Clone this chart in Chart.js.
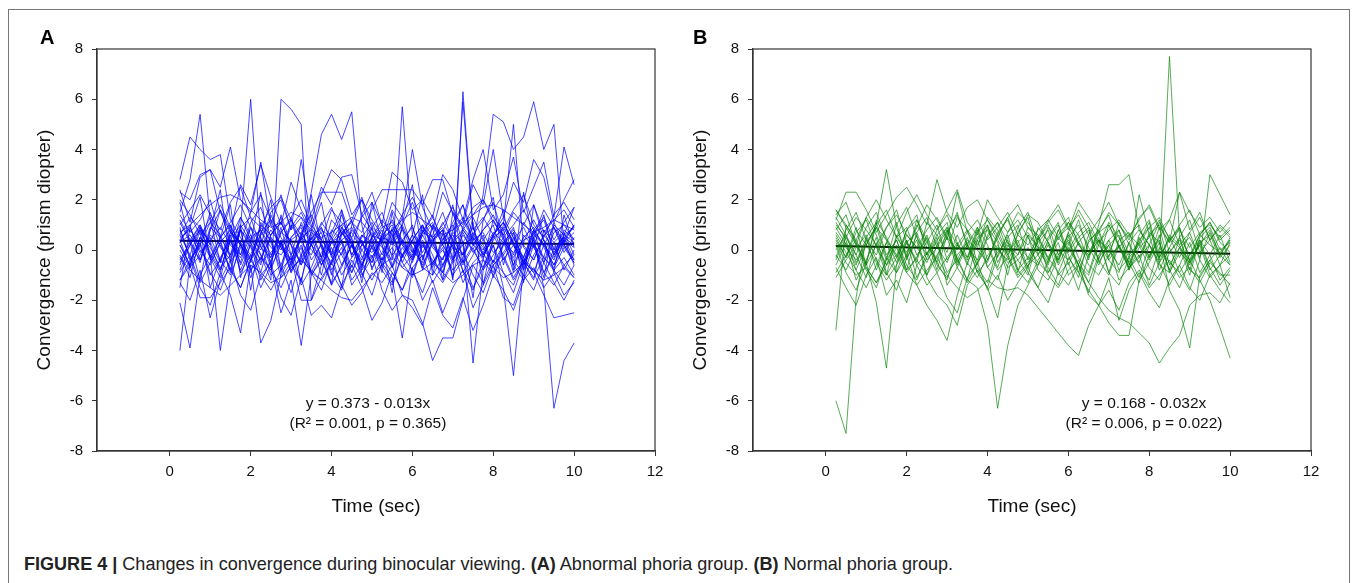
<!DOCTYPE html>
<html>
<head>
<meta charset="utf-8">
<script src="https://cdn.jsdelivr.net/npm/chart.js@4.4.1/dist/chart.umd.min.js"></script>
<style>
  html, body { margin: 0; padding: 0; background: #fff; }
  body { width: 1358px; height: 583px; position: relative; overflow: hidden; font-family: "Liberation Sans", Arial, sans-serif; }
  #frame { position: absolute; left: 8px; top: 9px; width: 1342px; height: 600px; border: 1px solid #777; box-sizing: border-box; }
  canvas { position: absolute; top: 0; }
  .letter { position: absolute; font-weight: bold; font-size: 20px; color: #000; }
  #caption { position: absolute; left: 24px; top: 553px; font-family: "Liberation Sans Narrow", "Arial Narrow", "Liberation Sans", sans-serif; font-size: 19px; color: #222; white-space: nowrap; transform: scaleX(0.95); transform-origin: 0 0; }
</style>
</head>
<body>
<div id="frame"></div>
<canvas id="chartA" width="680" height="530" style="left:0px"></canvas>
<canvas id="chartB" width="680" height="530" style="left:656px"></canvas>
<div class="letter" style="left:40px;top:26px">A</div>
<div class="letter" style="left:693px;top:26px">B</div>
<div id="caption"><b>FIGURE 4 |</b> Changes in convergence during binocular viewing. <b>(A)</b> Abnormal phoria group. <b>(B)</b> Normal phoria group.</div>
<script>
// time points (sec)
const timeSec = [0.25, 0.5, 0.75, 1.0, 1.25, 1.5, 1.75, 2.0, 2.25, 2.5,
                 2.75, 3.0, 3.25, 3.5, 3.75, 4.0, 4.25, 4.5, 4.75, 5.0,
                 5.25, 5.5, 5.75, 6.0, 6.25, 6.5, 6.75, 7.0, 7.25, 7.5,
                 7.75, 8.0, 8.25, 8.5, 8.75, 9.0, 9.25, 9.5, 9.75, 10.0];
const xTicks = [0, 2, 4, 6, 8, 10, 12];

// (A) abnormal phoria group, one row per subject
const abnormalPhoria = [
  [0.5,0.8,0.2,1.1,0.6,-0.3,0.9,6.0,0.4,-0.5, 0.7,1.2,0.3,-0.2,0.8,0.5,1.4,0.2,-0.6,0.3, 0.9,1.1,0.4,-0.3,0.6,1.0,0.2,-0.4,5.9,0.8, 1.3,0.6,-0.2,0.4,0.9,0.1,-0.5,0.7,1.0,0.4],
  [-0.4,0.3,1.0,0.2,-0.8,0.5,1.3,0.4,-0.2,-1.2, 6.0,5.6,5.0,-2.0,-0.6,0.3,0.8,-0.2,0.5,1.1, 0.2,-0.7,0.4,0.9,-0.1,0.6,1.5,0.3,-0.5,0.2, 0.8,1.2,0.4,-0.3,0.5,0.9,0.1,-0.6,0.3,0.7],
  [1.2,0.4,-0.5,0.8,1.6,0.3,-0.2,0.9,0.5,-0.7, 0.2,1.0,0.4,2.3,4.6,5.4,4.4,5.5,1.0,-0.8, 0.5,1.2,0.3,-0.4,0.7,1.1,0.2,-0.5,0.9,0.4, -0.2,0.6,1.3,0.5,-0.3,0.8,0.2,-0.6,0.4,1.0],
  [0.2,-0.6,0.5,1.3,0.1,-0.4,0.8,0.3,-0.9,0.6, 1.1,0.2,-0.5,0.7,0.4,-0.2,0.9,0.3,-0.7,0.5, 1.0,-0.3,5.7,0.6,-0.8,0.3,1.1,0.4,-0.2,0.7, 0.2,-0.5,1.0,5.0,0.1,-0.4,0.6,0.9,-0.1,0.5],
  [-0.8,0.2,0.9,-0.3,0.5,1.0,-0.6,0.4,0.8,-0.2, 0.3,-0.9,0.6,1.2,0.1,-0.5,0.7,0.2,-0.4,0.9, 0.5,-0.2,0.3,1.0,-0.7,0.4,0.8,-1.2,6.3,0.9, -0.3,0.6,1.1,0.2,-0.6,0.5,0.8,-0.2,0.4,0.1],
  [0.3,1.0,-0.4,0.6,0.2,-0.8,0.9,1.3,0.1,-0.3, 0.7,0.4,-0.6,0.2,1.1,0.5,-0.2,0.8,0.3,-0.5, 0.6,1.0,0.2,-0.4,0.8,0.3,-0.7,0.5,1.2,0.4, 2.2,5.4,5.1,4.0,4.5,5.9,4.0,5.0,0.2,-0.5],
  [1.5,2.8,5.4,1.2,-0.5,0.7,0.3,-0.2,0.9,0.4, -0.6,0.5,1.0,0.2,-0.3,0.8,0.4,-0.7,0.6,0.1, -0.4,0.9,0.3,-0.2,0.7,0.5,-0.9,0.4,0.8,0.2, -0.3,0.6,1.1,0.3,-0.5,0.7,0.2,-0.4,0.6,0.9],
  [2.8,4.5,4.0,3.6,3.8,1.2,0.5,-0.4,1.0,0.6, 1.3,-0.2,0.4,0.9,0.2,-0.6,0.7,1.1,0.3,-0.3, 0.5,0.8,-0.5,0.4,1.0,0.2,-0.4,0.7,0.3,0.9, -0.2,0.5,0.8,-0.6,0.3,1.2,0.4,-0.1,0.6,0.3],
  [-4.0,-0.5,0.8,-1.5,-0.3,0.4,-0.8,0.2,-1.2,-0.4, 0.3,-0.9,-0.2,0.5,-0.6,0.1,-1.0,-0.3,0.4,-0.7, -0.1,0.6,-0.5,-1.1,0.2,-0.4,-0.9,0.3,-0.6,0.1, -0.8,-0.2,0.5,-0.4,-1.0,0.2,-0.3,-0.7,0.1,-0.5],
  [-2.1,-3.9,-1.0,-0.2,-4.0,-1.2,0.3,-0.8,-0.3,0.5, -1.1,-0.5,0.2,-0.9,-1.6,-0.4,0.3,-1.2,-0.6,0.1, -0.8,-1.4,-0.2,0.4,-0.7,-1.0,-0.3,0.2,-1.3,-0.5, -0.1,-0.9,0.3,-0.6,-1.2,-0.2,0.4,-0.8,-0.3,-1.0],
  [0.8,-0.3,-1.5,-2.2,-0.9,-1.8,-3.3,-0.6,-3.7,-2.8, -1.0,-0.2,-1.4,-0.7,0.3,-0.9,-1.6,-0.4,-1.1,0.2, -0.6,-1.3,-0.2,-0.8,-1.7,-0.5,0.1,-1.0,-0.4,-1.5, -0.7,0.2,-0.9,-1.4,-0.3,-0.8,-1.2,0.1,-0.6,-1.1],
  [0.4,-0.7,0.2,-1.0,-0.4,0.6,-0.9,-0.2,-1.5,-0.6, -2.5,-1.2,-3.8,-1.0,-0.3,-1.4,-0.6,0.2,-0.9,-1.8, -0.5,-1.1,-3.5,-0.7,-0.2,-1.3,-0.6,0.1,-0.8,-1.6, -0.4,-1.0,-0.3,-1.2,-0.5,0.2,-0.9,-1.4,-0.6,-0.2],
  [-0.9,-0.2,-1.3,-0.5,0.3,-0.8,-1.5,-0.4,0.2,-1.0, -0.6,-1.7,-0.3,-0.9,-1.2,-0.5,0.1,-1.4,-0.8,-0.2, -1.6,-2.4,-1.8,-2.0,-2.9,-4.4,-3.5,-3.5,-2.0,-0.6, -1.3,-0.4,-0.9,-1.7,-0.5,-1.1,-0.3,-0.8,-1.4,-0.6],
  [0.2,-0.6,0.5,-0.3,-1.1,0.4,-0.5,0.9,-0.2,-0.8, 0.3,-0.4,0.6,-0.9,-0.1,0.5,-0.6,0.2,-1.0,-0.3, 0.4,-0.7,0.1,-0.5,0.6,-0.2,-1.2,-0.4,0.3,-4.5, -0.8,0.2,-1.5,-5.0,-0.6,0.4,-0.9,-0.2,0.5,-0.4],
  [0.6,-0.2,0.9,0.3,-0.5,1.0,0.2,-0.4,0.7,1.2, 0.1,-0.6,0.5,0.8,-0.3,0.4,1.0,-0.2,0.6,0.3, -0.5,0.8,0.2,-0.3,0.9,0.5,-0.6,0.3,0.7,-0.1, 0.4,1.0,-0.4,0.2,-0.8,0.5,-1.5,-6.3,-4.4,-3.7],
  [-1.2,-0.4,0.3,-0.9,-1.6,-0.5,0.2,-1.1,-0.3,-0.8, -1.5,-0.6,0.1,-1.0,-0.4,-1.3,-0.7,0.2,-0.5,-1.2, -0.3,-0.9,-1.6,-0.4,0.3,-0.8,-1.3,-0.5,-0.1,-1.0, -1.7,-0.6,-0.2,-1.1,-0.4,-0.9,-1.8,-2.7,-2.6,-2.5],
  [1.0,1.6,2.2,1.4,0.8,1.9,2.5,1.3,0.9,1.7, 2.1,1.2,0.6,1.5,2.3,2.3,2.3,1.1,0.7,1.6, 2.4,2.4,2.4,2.4,1.8,2.8,2.8,1.4,0.9,1.7, 2.0,1.3,0.8,1.6,2.2,1.0,0.5,1.4,1.9,1.2],
  [2.4,1.1,2.9,3.2,1.5,0.7,2.6,1.8,3.4,2.1, 1.0,2.7,1.6,0.9,2.2,3.2,2.8,1.4,2.0,1.2, 0.6,1.9,1.3,4.0,1.7,0.8,2.3,1.5,1.0,2.6, 1.8,4.0,1.3,2.7,1.9,3.6,2.9,1.1,2.0,2.8],
  [0.7,1.0,1.4,1.8,2.1,2.2,2.0,1.6,1.2,0.9, 1.1,1.5,1.3,0.8,0.5,0.7,1.0,1.3,1.1,0.6, 0.4,0.8,1.2,1.5,1.2,0.9,0.6,0.8,1.1,1.4, 1.7,1.8,1.6,1.3,1.0,0.7,0.9,1.2,1.0,0.8],
  [-0.3,-0.8,-1.2,-1.5,-1.8,-1.4,-1.0,-0.6,-0.9,-1.3, -1.1,-0.7,-0.4,-0.8,-1.2,-1.6,-1.9,-2.0,-1.5,-1.0, -0.6,-0.3,-0.7,-1.0,-0.8,-0.5,-0.9,-1.3,-1.0,-0.6, -0.4,-0.7,-1.1,-0.9,-0.5,-0.8,-1.2,-1.0,-0.7,-1.1],
  [1.9,0.3,-1.2,0.8,2.4,-0.5,1.0,-1.6,0.6,2.0, -0.9,1.3,-0.3,2.2,0.1,-1.4,1.6,0.4,-0.8,1.9, 0.2,-1.7,1.1,2.6,-0.4,0.9,-1.2,1.5,0.3,-1.9, 1.2,2.1,-0.6,0.7,-1.3,1.8,0.4,-0.9,1.4,0.1],
  [-1.5,0.9,2.1,-0.4,0.5,1.8,-1.1,0.3,2.3,-0.7, 1.4,0.2,-1.3,0.8,1.9,-0.2,-1.5,1.0,2.0,0.4, -0.9,1.5,-0.3,0.6,2.2,-1.0,0.7,1.8,-0.5,1.1, -1.4,0.5,1.6,-0.8,2.3,0.2,-1.1,1.0,0.6,1.7],
  [0.3,0.6,-0.1,0.4,0.9,0.2,-0.3,0.5,0.8,0.1, -0.2,0.4,0.7,0.0,-0.4,0.3,0.6,0.9,0.2,-0.1, 0.5,0.3,-0.2,0.6,0.1,0.4,0.8,-0.3,0.2,0.5, 0.0,0.7,0.3,-0.1,0.4,0.6,0.2,0.9,0.1,0.3],
  [-0.6,0.4,1.0,-0.2,-0.9,0.7,0.2,-0.5,1.1,0.3, -0.8,0.5,0.9,-0.4,0.2,-1.0,0.6,1.2,-0.3,0.1, 0.8,-0.6,0.4,-0.1,1.0,-0.7,0.3,0.6,-0.2,1.3, 0.4,-0.5,0.2,0.9,-0.8,0.5,-0.3,1.1,0.2,-0.4],
  [-1.3,-2.0,-0.8,-2.7,-1.2,-0.4,-1.8,-2.4,-1.0,-0.5, -1.9,-2.6,-1.1,-2.6,-2.2,-2.7,-1.4,-0.6,-1.5,-2.8, -2.1,-0.9,-1.6,-0.7,-2.0,-1.2,-2.5,-1.5,-0.8,-2.3, -1.4,-0.6,-1.9,-2.2,-1.0,-1.6,-0.5,-1.3,-2.0,-1.2],
  [2.3,2.0,3.0,3.2,2.5,4.1,2.0,1.5,3.5,1.0, 2.2,0.8,3.6,1.2,2.5,1.8,2.9,3.0,1.4,2.3, 1.0,3.1,2.7,1.6,2.0,1.3,3.0,2.4,1.2,2.8, 4.0,1.6,2.2,3.7,1.5,2.5,3.5,1.3,4.1,2.6],
  [0.9,-0.4,0.2,1.5,0.4,-0.9,0.8,0.1,-0.6,1.4, 0.5,-0.2,1.1,0.3,-1.0,0.7,1.6,-0.3,0.2,0.9, -0.7,0.4,1.3,0.0,-0.5,1.0,0.6,-1.1,0.8,0.3, -0.4,1.2,0.5,-0.9,0.6,0.1,1.4,-0.2,0.8,0.4],
  [-0.2,-1.1,0.5,0.1,-0.7,-0.2,0.8,-0.9,0.4,-0.3, 0.9,-0.6,-1.2,0.3,0.7,-0.8,-0.1,0.5,-1.3,0.6, 0.1,-0.4,0.9,-1.0,0.3,-0.6,0.4,1.0,-0.9,-0.2, 0.6,-1.1,0.2,0.7,-0.5,-1.2,0.8,0.3,-0.8,0.0],
  [-1.2,-0.6,-1.9,-1.9,-1.3,-0.7,-1.5,-0.4,-1.0,-1.6, -0.8,-0.3,-2.0,-2.0,-1.1,-0.5,-1.4,-2.2,-1.7,-0.9, -1.3,-0.6,-1.8,-2.3,-3.0,-1.5,-2.6,-3.1,-1.9,-3.2, -2.2,-1.0,-1.6,-2.4,-1.2,-0.7,-1.5,-0.9,-1.8,-1.3],
  [1.4,0.7,1.2,2.0,0.5,1.1,1.8,0.9,0.2,1.5, 2.0,0.8,1.3,0.4,1.0,1.7,0.6,1.2,2.1,0.9, 1.5,0.3,1.0,1.9,0.7,1.4,0.2,1.1,1.8,0.6, 1.2,1.9,0.5,1.0,1.6,0.8,1.3,0.4,1.1,1.7],
  [0.6,1.3,0.9,0.2,1.6,0.8,-0.2,1.1,1.7,0.5, 0.0,0.9,1.5,0.6,-0.3,1.2,0.7,0.1,1.4,0.8, 0.3,1.6,0.9,-0.1,0.7,1.3,0.4,0.9,1.8,0.2, 0.8,1.4,0.6,-0.2,1.1,0.5,1.6,0.9,0.3,1.0],
  [-0.5,0.2,0.8,-0.1,-0.8,0.4,1.0,0.3,-0.4,0.6, 1.1,0.2,-0.6,0.5,0.9,-0.3,0.4,-0.9,0.2,0.7, -0.2,0.5,1.0,0.1,-0.6,0.3,0.8,-0.4,0.6,0.0, -0.7,0.4,0.9,0.2,-0.3,0.8,-0.5,0.3,0.7,-0.2],
  [1.1,0.3,-0.4,0.9,0.5,-0.2,1.3,0.6,0.0,0.8, 0.2,-0.5,0.7,1.4,0.4,-0.1,0.9,0.3,-0.6,0.5, 1.2,0.6,-0.3,0.4,1.0,0.1,-0.4,0.8,1.3,0.5, -0.1,0.6,1.1,0.3,-0.5,0.7,1.2,0.0,0.5,0.9],
  [0.0,-0.7,-0.2,0.5,-0.4,-1.0,0.1,0.6,-0.5,-0.1, 0.4,-0.8,-0.3,0.2,-0.6,0.3,-0.2,-0.9,0.0,0.5, -0.4,0.1,-0.7,-0.2,0.4,-0.5,0.0,-0.8,-0.3,0.6, 0.1,-0.6,-0.1,0.5,-0.4,-0.9,0.2,-0.3,0.4,-0.6],
  [2.0,1.4,0.6,1.1,1.8,0.9,0.3,1.5,2.2,1.2, 0.7,1.3,2.0,1.0,0.4,1.6,1.1,0.5,1.3,1.9, 1.0,0.6,1.4,2.1,1.2,0.5,1.0,1.7,0.8,1.4, 2.0,1.1,0.6,1.5,1.0,1.8,0.7,1.2,1.6,0.9],
  [0.4,0.9,0.0,-0.6,0.3,0.8,0.2,-0.3,0.6,1.0, 0.1,-0.4,0.5,0.2,0.9,-0.2,0.4,0.7,0.0,-0.5, 0.6,0.2,0.8,0.3,-0.3,0.5,0.9,0.1,-0.2,0.4, 0.7,-0.1,0.3,0.8,0.2,-0.4,0.6,0.1,0.5,0.2]
];

// (B) normal phoria group, one row per subject
const normalPhoria = [
  [-6.0,-7.3,-1.9,0.5,-0.8,0.3,1.1,-0.4,0.6,-1.0, 0.2,0.9,-0.3,-1.2,0.4,1.0,-0.5,0.3,-0.9,0.6, 0.1,-0.6,0.8,-0.2,-1.1,0.4,0.7,-0.4,0.2,-0.8, 0.5,-0.3,0.9,-0.6,0.1,-1.0,0.4,-0.2,0.6,-0.5],
  [-3.2,1.0,0.3,-0.6,1.2,0.5,-0.3,0.8,1.4,-0.2, 0.6,1.1,-0.5,0.2,0.9,-0.4,0.5,1.3,0.1,-0.7, 0.4,1.0,-0.2,0.6,-0.9,0.3,0.8,-0.3,1.1,0.2, -0.5,0.7,0.3,-0.8,0.5,1.2,-0.1,0.4,-0.6,0.3],
  [0.8,1.4,0.2,-0.5,1.0,3.2,0.9,-0.3,1.2,0.4, -0.8,0.6,1.5,0.1,-0.4,0.9,0.3,-1.0,0.7,1.3, -0.2,0.5,1.1,-0.6,0.3,0.8,-0.4,1.0,0.2,-0.7, 0.6,1.2,-0.3,0.4,0.9,-0.5,0.2,0.8,-0.2,0.5],
  [0.2,-0.9,-1.6,-0.5,-2.1,-4.7,-0.6,0.4,-1.1,-0.3, 0.5,-1.4,-0.7,0.2,-0.9,-1.5,-0.2,0.6,-0.8,-1.3, -0.4,0.3,-1.0,-0.5,-1.6,-0.2,0.4,-0.9,-1.4,-0.3, 0.2,-0.7,-1.2,-0.1,0.5,-0.8,-1.1,-0.4,0.1,-0.6],
  [1.1,0.4,-0.8,-1.5,-0.6,0.3,-0.9,-0.2,-1.4,-2.2, -2.8,-3.6,-1.8,-0.5,0.4,-0.7,-1.2,0.2,-0.4,-1.0, 0.5,-0.3,-0.9,0.1,-0.6,-1.3,-0.2,0.4,-0.8,-0.3, -1.1,0.2,-0.5,-1.4,-0.6,0.3,-0.9,-0.2,-1.2,-0.7],
  [0.5,-0.3,0.9,-0.6,0.2,-1.0,0.6,-0.2,1.0,0.3, -0.5,0.8,-0.4,-1.2,-1.5,-3.0,-6.3,-3.8,-2.2,-1.4, -0.6,0.2,-0.5,0.7,-0.3,-0.9,0.4,-0.1,0.8,-0.6, 0.3,-0.4,0.6,-0.9,0.1,0.5,-0.3,0.7,-0.2,0.4],
  [-0.6,0.3,-1.2,-0.4,0.5,-0.9,-1.6,-0.3,0.4,-1.1, -1.8,-2.2,-3.0,-1.4,-0.8,-1.5,-2.7,-0.6,0.2,-0.9, -1.5,-0.4,0.3,-1.0,-0.6,-1.7,-0.3,0.2,-1.2,-0.7, -0.2,-1.4,-0.5,0.1,-0.9,-1.6,-0.4,-1.1,-0.6,-1.9],
  [0.3,-0.5,-1.0,-0.7,-1.3,-0.6,-0.2,-0.9,-1.4,-0.8, -0.3,-1.0,-1.5,-1.9,-1.6,-1.2,-1.5,-1.6,-1.5,-1.8, -2.3,-2.8,-3.3,-3.8,-4.2,-3.0,-2.2,-1.6,-2.4,-1.3, -0.8,-1.5,-1.0,-0.4,-1.1,-0.7,-1.3,-0.5,-0.9,-1.4],
  [-0.9,-0.2,0.4,-0.7,-1.3,-0.4,0.2,-0.8,-0.3,0.5, -0.6,-1.1,-0.2,0.3,-0.9,-0.4,0.6,-0.2,-1.0,-0.5, 0.1,-0.7,-1.4,-0.3,-0.9,-1.6,-2.2,-2.9,-3.4,-3.4, -1.2,-0.5,0.3,-0.8,-1.5,-0.4,0.2,-1.0,-0.6,-0.2],
  [0.6,-0.1,-0.8,0.2,-0.5,-1.2,-0.6,0.3,-0.4,-1.0, -0.2,0.5,-0.7,-1.3,-0.5,0.1,-0.8,-0.3,-1.1,-0.6, -0.2,-1.0,-1.5,-0.8,-0.4,-1.3,-1.9,-2.4,-2.7,-2.9, -3.3,-3.7,-4.5,-3.9,-3.4,-2.2,-1.8,-1.7,-2.1,-1.3],
  [1.3,0.6,-0.2,0.9,1.5,0.4,-0.5,0.8,1.2,0.1, -0.3,0.7,1.4,0.2,-0.6,0.5,1.1,0.3,-0.2,0.9, 0.6,-0.4,0.8,1.3,0.2,-0.3,0.7,1.0,0.1,-0.5, 0.4,0.9,-0.4,7.7,0.5,-0.2,0.6,1.1,0.3,-0.1],
  [1.6,0.9,0.2,1.3,0.6,-0.4,1.0,1.7,0.5,-0.2, 0.8,1.4,0.3,-0.6,0.7,1.2,0.4,-0.3,0.9,1.5, 0.2,-0.5,0.6,1.1,0.3,-0.2,0.8,1.4,0.1,0.6, 1.0,-0.3,0.5,1.2,0.2,0.7,-0.4,3.0,2.2,1.4],
  [-0.4,0.5,-0.2,-1.1,0.3,-0.6,0.1,-0.9,-0.3,0.6, -0.5,-1.2,0.2,-0.4,0.8,-0.7,-0.1,0.4,-0.8,-0.3, 0.5,-0.9,-0.2,0.3,-0.6,0.6,-0.4,-1.0,0.2,-0.5, -1.3,-0.2,0.4,-1.6,-2.4,-3.9,-1.0,-0.4,-1.0,-1.0],
  [0.9,0.2,-0.6,0.5,1.1,-0.2,0.4,-0.8,0.7,1.3, 0.1,-0.5,0.6,-0.3,0.9,0.2,-0.7,0.5,1.0,-0.4, 0.3,0.8,-0.6,0.2,1.2,-0.1,0.5,-0.9,0.4,0.7, -0.3,0.6,-0.8,0.1,0.9,-0.4,-1.2,-2.0,-3.1,-4.3],
  [-0.3,0.8,1.5,0.4,-0.2,0.9,1.6,0.3,-0.5,1.1, 0.6,-0.1,1.3,0.8,0.2,1.0,-0.3,0.7,1.2,0.5, -0.2,0.9,0.4,1.1,0.6,-0.4,1.0,2.6,2.6,3.0, 0.8,0.2,1.1,0.5,-0.3,0.7,1.3,0.4,0.9,0.5],
  [1.2,2.3,2.3,1.6,0.7,1.4,2.1,2.5,1.8,1.0, 2.8,1.5,0.9,1.7,2.0,1.2,0.6,1.3,1.8,0.9, 0.4,1.1,1.6,0.8,1.9,1.3,0.7,1.5,1.0,0.5, 1.2,1.8,0.9,0.3,1.0,1.6,0.6,1.1,0.4,0.8],
  [0.4,-0.3,0.7,1.2,0.1,-0.6,0.5,0.9,-0.2,0.3, 1.0,-0.4,0.2,0.8,-0.5,0.6,1.1,-0.1,0.4,-0.7, 0.9,0.3,-0.4,0.5,1.0,0.1,-0.6,0.4,0.8,-0.2, 0.3,1.1,-0.5,0.6,0.2,-0.8,0.5,0.9,0.0,0.3],
  [-1.1,-0.4,0.2,-0.8,-1.5,-0.3,0.4,-0.6,-1.2,-0.1, 0.3,-0.9,-0.4,0.5,-0.7,-1.3,0.1,-0.5,-0.2,0.6, -0.8,-1.2,-0.3,0.4,-0.6,-1.0,0.2,-0.4,-0.9,0.3, -0.6,-1.2,0.1,-0.5,-0.9,-0.2,0.4,-0.7,-1.4,-0.8],
  [1.6,1.0,0.4,1.3,2.0,1.2,0.5,1.5,2.2,1.4, 0.8,1.6,2.4,1.1,0.6,2.0,1.3,0.7,1.5,1.1, 0.5,1.2,1.8,0.9,1.4,0.6,1.2,1.9,1.0,0.4, 1.3,1.7,0.8,1.2,2.3,1.5,0.9,1.3,0.7,1.2],
  [0.0,0.6,-0.5,0.2,0.9,-0.3,-0.9,0.3,0.7,-0.4, 0.1,0.8,-0.6,0.4,0.0,-0.5,0.7,1.2,0.2,-0.3, -0.6,0.4,1.0,-0.1,0.5,0.9,-0.5,0.2,0.6,-0.8, 0.1,0.5,1.2,-0.1,0.4,-0.6,0.3,0.6,-0.3,0.2],
  [-0.7,-1.5,-2.2,-1.0,-0.3,-1.8,-1.2,-2.1,-0.6,-1.4, -0.9,-1.9,-2.5,-1.1,-0.5,-1.6,-1.0,-2.0,-1.3,-0.7, -1.5,-2.1,-0.9,-1.4,-0.6,-1.8,-2.2,-1.1,-2.8,-1.6, -0.9,-1.7,-2.3,-1.2,-0.6,-1.5,-2.0,-1.0,-1.6,-2.1],
  [1.4,1.9,0.8,0.2,1.0,1.6,0.5,-0.1,0.9,1.8, 1.2,0.4,2.3,0.7,0.1,1.3,0.8,-0.2,0.6,1.4, 1.1,0.3,-0.4,0.7,1.6,0.9,0.2,1.1,0.5,-0.3, 2.2,0.6,1.0,0.3,2.3,0.8,1.5,0.4,1.0,0.6],
  [0.7,0.1,-0.4,0.3,0.9,0.4,-0.2,0.6,0.1,-0.5, 0.4,0.9,0.2,-0.3,0.5,0.8,0.0,-0.4,0.3,0.7, 0.1,-0.3,0.5,0.9,0.2,-0.2,0.4,0.0,-0.6,0.3, 0.8,0.2,-0.3,0.5,0.1,-0.4,0.6,0.2,-0.1,0.4],
  [-0.2,-0.8,0.1,0.6,-0.4,-1.0,-0.3,0.4,-0.6,-0.1, -0.9,-0.3,0.3,-0.5,-1.1,-0.2,0.2,-0.7,-0.4,0.1, -0.5,-0.9,0.0,-0.4,0.3,-0.6,-1.0,-0.2,0.1,-0.7, -0.3,0.2,-0.6,-0.9,-0.1,-0.5,0.3,-0.8,-0.2,-0.6],
  [1.0,0.5,1.3,0.8,0.2,0.9,1.4,0.6,0.1,0.8, 1.3,0.5,0.0,0.7,1.2,0.4,0.9,1.5,0.6,0.2, 0.8,1.2,0.5,0.0,0.7,1.1,0.3,0.8,1.2,0.6, 0.2,0.9,1.3,0.4,0.8,0.1,0.7,1.0,0.5,0.9]
];

// regression: [intercept, slope]
const fitA = [0.373, -0.013];
const fitB = [0.168, -0.032];
const fitTextA = ["y = 0.373 - 0.013x", "(R\u00B2 = 0.001, p = 0.365)"];
const fitTextB = ["y = 0.168 - 0.032x", "(R\u00B2 = 0.006, p = 0.022)"];

const FONT = '"Liberation Sans", Arial, sans-serif';
const INK = '#111';

// box around plot area
const frameBox = {
    id: 'frameBox',
    afterDraw(chart) {
        const a = chart.chartArea;
        const ctx = chart.ctx;
        ctx.save();
        ctx.strokeStyle = '#333';
        ctx.lineWidth = 1.2;
        ctx.strokeRect(a.left, a.top, a.right - a.left, a.bottom - a.top);
        ctx.restore();
    }
};

// regression equation text
const fitLabel = {
    id: 'fitLabel',
    afterDatasetsDraw(chart, args, opts) {
        const ctx = chart.ctx;
        const x = chart.scales.x.getPixelForValue(opts.x);
        ctx.save();
        ctx.font = '15.5px ' + FONT;
        ctx.fillStyle = INK;
        ctx.textAlign = 'center';
        ctx.textBaseline = 'middle';
        opts.lines.forEach((line, i) => {
            ctx.fillText(line, x, chart.scales.y.getPixelForValue(opts.y[i]));
        });
        ctx.restore();
    }
};

function makeChart(canvasId, groups, color, fit, fitText, textX) {
    const datasets = groups.map(vals => ({
        data: vals.map((v, i) => ({ x: timeSec[i], y: v })),
        borderColor: color,
        borderWidth: 1,
        pointRadius: 0,
        tension: 0,
        fill: false
    }));
    const t0 = timeSec[0], t1 = timeSec[timeSec.length - 1];
    datasets.push({
        data: [{ x: t0, y: fit[0] + fit[1] * t0 }, { x: t1, y: fit[0] + fit[1] * t1 }],
        borderColor: '#111',
        borderWidth: 2,
        pointRadius: 0,
        fill: false
    });

    return new Chart(document.getElementById(canvasId), {
        type: 'line',
        data: { datasets: datasets },
        plugins: [frameBox, fitLabel],
        options: {
            responsive: false,
            animation: false,
            layout: { padding: { left: 20, top: 49, right: 25, bottom: 0 } },
            plugins: {
                legend: { display: false },
                tooltip: { enabled: false },
                fitLabel: { x: textX, y: [-6.1, -6.9], lines: fitText }
            },
            scales: {
                x: {
                    type: 'linear',
                    min: -1.8,
                    max: 12,
                    afterBuildTicks: s => { s.ticks = xTicks.map(v => ({ value: v })); },
                    afterFit: s => { s.height = 79; },
                    grid: { drawOnChartArea: false, drawTicks: true, tickLength: 5, color: '#333' },
                    border: { color: '#333', width: 1.2 },
                    ticks: { color: INK, font: { size: 15, family: FONT }, padding: 7, maxRotation: 0 },
                    title: { display: true, text: 'Time (sec)', color: INK,
                             font: { size: 19, family: FONT }, padding: { top: 0, bottom: 12 } }
                },
                y: {
                    min: -8,
                    max: 8,
                    afterFit: s => { s.width = 77; },
                    grid: { drawOnChartArea: false, drawTicks: true, tickLength: 5, color: '#333' },
                    border: { color: '#333', width: 1.2 },
                    ticks: { stepSize: 2, color: INK, font: { size: 15, family: FONT }, padding: 9 },
                    title: { display: true, text: 'Convergence (prism diopter)', color: INK,
                             font: { size: 19, family: FONT }, padding: { top: 13, bottom: 0 } }
                }
            }
        }
    });
}

makeChart('chartA', abnormalPhoria, 'rgba(0,0,255,0.72)', fitA, fitTextA, 4.9);
makeChart('chartB', normalPhoria, 'rgba(0,128,0,0.66)', fitB, fitTextB, 7.87);
</script>
</body>
</html>
